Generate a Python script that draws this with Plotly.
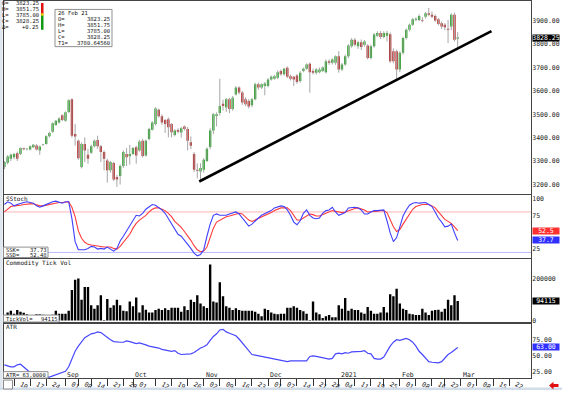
import plotly.graph_objects as go
import pandas as pd

W, H = 562, 393

# ---------------- data ----------------
FIRST_DAY = "2020-08-05"
LAST_AXIS_DAY = "2021-03-31"
HOLIDAYS = ["2020-09-07", "2020-11-26", "2020-12-25", "2021-01-01", "2021-01-18", "2021-02-15"]

OPEN = [3274, 3292, 3309, 3316, 3333, 3330, 3354, 3350, 3349, 3359,
        3366, 3345, 3368, 3373, 3406, 3425, 3454, 3465, 3496, 3472,
        3510, 3564, 3415, 3387, 3274, 3373, 3326, 3335, 3363, 3390,
        3363, 3338, 3302, 3260, 3291, 3231, 3236, 3278, 3330, 3320,
        3330, 3359, 3345, 3387, 3323, 3394, 3434, 3458, 3519, 3491,
        3475, 3479, 3458, 3411, 3432, 3422, 3447, 3437, 3380, 3330,
        3262, 3255, 3262, 3300, 3360, 3430, 3493, 3505, 3545, 3529,
        3564, 3522, 3585, 3614, 3593, 3564, 3557, 3539, 3564, 3628,
        3614, 3621, 3621, 3649, 3652, 3656, 3685, 3671, 3699, 3663,
        3661, 3666, 3642, 3685, 3695, 3716, 3685, 3678, 3680, 3685,
        3680, 3727, 3720, 3720, 3748, 3692, 3713, 3748, 3791, 3819,
        3791, 3808, 3798, 3794, 3741, 3791, 3836, 3848, 3831, 3836,
        3843, 3770, 3770, 3692, 3763, 3826, 3862, 3883, 3905, 3904,
        3904, 3918, 3933, 3926, 3921, 3907, 3890, 3883, 3866, 3876,
        3926, 3823.25]
HIGH = [3300, 3325, 3332, 3335, 3340, 3358, 3357, 3355, 3366, 3373,
        3372, 3366, 3373, 3410, 3425, 3465, 3476, 3487, 3500, 3512,
        3564, 3568, 3458, 3392, 3380, 3401, 3352, 3370, 3392, 3408,
        3369, 3345, 3310, 3300, 3296, 3240, 3285, 3345, 3355, 3369,
        3360, 3366, 3390, 3395, 3392, 3442, 3470, 3530, 3525, 3500,
        3480, 3486, 3462, 3436, 3440, 3446, 3452, 3445, 3405, 3338,
        3290, 3290, 3312, 3358, 3440, 3505, 3508, 3652, 3562, 3570,
        3570, 3578, 3620, 3620, 3600, 3572, 3565, 3570, 3635, 3635,
        3632, 3638, 3655, 3666, 3668, 3688, 3692, 3700, 3705, 3670,
        3665, 3672, 3685, 3700, 3718, 3722, 3695, 3698, 3700, 3705,
        3735, 3735, 3740, 3752, 3770, 3720, 3755, 3800, 3826, 3826,
        3815, 3820, 3818, 3800, 3798, 3848, 3855, 3856, 3855, 3857,
        3850, 3782, 3776, 3770, 3832, 3868, 3888, 3912, 3915, 3928,
        3915, 3938, 3955, 3940, 3928, 3912, 3897, 3890, 3904, 3932,
        3935, 3851.75]
LOW = [3265, 3285, 3300, 3308, 3300, 3325, 3346, 3345, 3345, 3355,
       3345, 3326, 3364, 3370, 3400, 3420, 3450, 3460, 3470, 3468,
       3505, 3400, 3366, 3305, 3268, 3295, 3288, 3330, 3358, 3352,
       3295, 3260, 3207, 3250, 3214, 3189, 3199, 3270, 3278, 3284,
       3325, 3288, 3340, 3315, 3318, 3388, 3430, 3452, 3485, 3455,
       3420, 3401, 3401, 3405, 3418, 3400, 3430, 3345, 3350, 3252,
       3225, 3215, 3250, 3295, 3350, 3415, 3448, 3495, 3515, 3510,
       3505, 3515, 3580, 3585, 3540, 3535, 3525, 3530, 3560, 3605,
       3608, 3581, 3615, 3644, 3648, 3650, 3665, 3665, 3655, 3645,
       3621, 3630, 3635, 3680, 3690, 3592, 3670, 3670, 3675, 3680,
       3675, 3712, 3713, 3712, 3678, 3685, 3708, 3740, 3785, 3790,
       3780, 3775, 3790, 3735, 3735, 3785, 3830, 3822, 3825, 3812,
       3720, 3718, 3650, 3680, 3755, 3820, 3855, 3878, 3898, 3898,
       3893, 3910, 3920, 3912, 3895, 3880, 3865, 3860, 3805, 3860,
       3812, 3785]
CLOSE = [3295, 3319, 3326, 3330, 3309, 3355, 3350, 3351, 3363, 3369,
         3349, 3362, 3369, 3406, 3420, 3461, 3472, 3482, 3475, 3508,
         3560, 3408, 3405, 3312, 3373, 3345, 3309, 3363, 3387, 3363,
         3338, 3309, 3260, 3295, 3221, 3221, 3278, 3338, 3316, 3330,
         3355, 3323, 3383, 3321, 3387, 3437, 3465, 3525, 3491, 3465,
         3458, 3444, 3423, 3430, 3425, 3440, 3437, 3387, 3365, 3262,
         3258, 3270, 3305, 3352, 3430, 3500, 3500, 3535, 3535, 3564,
         3522, 3571, 3614, 3593, 3550, 3543, 3533, 3564, 3628, 3614,
         3628, 3632, 3649, 3661, 3663, 3680, 3671, 3695, 3661, 3652,
         3649, 3638, 3678, 3695, 3713, 3680, 3678, 3692, 3692, 3700,
         3727, 3720, 3734, 3748, 3692, 3713, 3748, 3794, 3819, 3798,
         3808, 3788, 3812, 3741, 3791, 3841, 3848, 3831, 3848, 3848,
         3727, 3727, 3692, 3763, 3826, 3862, 3883, 3907, 3909, 3921,
         3900, 3933, 3926, 3918, 3901, 3887, 3876, 3873, 3862, 3926,
         3819, 3828.25]

SSK = [91, 95, 93, 89, 91, 93, 94, 95, 94, 93,
       89, 87, 89, 91, 94, 95, 96, 94, 93, 95,
       95, 70, 36, 24, 24, 24, 26, 29, 28, 25,
       26, 25, 28, 25, 22, 26, 37, 44, 52, 59,
       66, 75, 74, 78, 84, 88, 91, 90, 87, 83,
       78, 70, 63, 54, 47, 44, 38, 33, 26, 19,
       15, 17, 24, 44, 62, 75, 77, 75, 75, 75,
       77, 79, 80, 77, 71, 65, 59, 62, 67, 71,
       75, 77, 79, 82, 86, 88, 89, 88, 83, 75,
       65, 61, 67, 78, 83, 75, 71, 70, 71, 78,
       82, 83, 87, 80, 75, 77, 79, 86, 87, 87,
       86, 83, 77, 77, 80, 82, 82, 83, 83, 67,
       49, 36, 42, 58, 74, 83, 90, 93, 94, 93,
       93, 94, 91, 88, 80, 71, 65, 58, 59, 62,
       49, 37.73]
SSD = [80, 84, 88, 89, 89, 90, 91, 92, 92, 92,
       90, 89, 89, 90, 91, 93, 94, 94, 94, 94,
       95, 87, 73, 52, 41, 35, 32, 31, 30, 30,
       29, 28, 28, 28, 26, 25, 29, 35, 41, 47,
       56, 63, 68, 71, 75, 80, 84, 86, 86, 84,
       82, 78, 73, 66, 62, 57, 51, 45, 38, 30,
       24, 21, 22, 28, 41, 56, 65, 68, 70, 73,
       74, 75, 77, 78, 77, 73, 68, 66, 68, 70,
       73, 75, 77, 79, 82, 84, 86, 86, 86, 82,
       75, 68, 68, 71, 75, 77, 76, 74, 74, 76,
       78, 80, 82, 81, 80, 79, 80, 82, 84, 85,
       86, 85, 83, 80, 80, 81, 81, 82, 82, 79,
       68, 58, 51, 54, 62, 70, 78, 84, 88, 90,
       91, 91, 91, 89, 86, 80, 74, 69, 66, 63,
       58, 52.48]
STOCH_LEVELS = [80, 20]

TICK_VOL_K = [26, 38, 47, 33, 51, 42, 37, 30, 19, 24,
              30, 30, 28, 26, 26, 28, 47, 33, 33, 33,
              47, 147, 196, 201, 100, 161, 161, 73, 56, 73,
              121, 3, 103, 61, 73, 100, 73, 47, 44, 91,
              68, 110, 38, 73, 52, 38, 38, 51, 56, 51,
              59, 51, 61, 61, 61, 42, 68, 51, 100, 89,
              121, 82, 68, 60, 269, 91, 86, 183, 117, 68,
              61, 51, 59, 51, 47, 47, 47, 47, 42, 33,
              21, 56, 51, 38, 33, 30, 33, 33, 61, 61,
              68, 61, 51, 44, 33, 3, 91, 38, 30, 12,
              21, 26, 16, 16, 73, 56, 108, 47, 56, 51,
              51, 38, 33, 65, 47, 33, 33, 38, 65, 38,
              126, 117, 152, 82, 56, 51, 33, 30, 26, 26,
              56, 38, 26, 47, 51, 52, 42, 56, 100, 73,
              121, 94.115]

ATR = [36, 34, 33, 33, 36, 37, 33, 29, 24, 20,
       19, 18, 17, 17, 17, 19, 20, 22, 24, 26,
       33, 46, 57, 65, 72, 78, 81, 84, 85, 87,
       86, 82, 78, 75, 72, 71, 71, 71, 73, 72,
       71, 69, 70, 69, 67, 65, 64, 64, 62, 60,
       59, 59, 57, 58, 54, 52, 52, 52, 53, 55,
       59, 62, 64, 67, 74, 80, 84, 90, 91, 87,
       85, 83, 81, 76, 70, 64, 57, 52, 51, 50,
       49, 48, 46, 45, 44, 43, 42, 42, 41, 42,
       42, 42, 42, 42, 42, 49, 50, 49, 48, 48,
       46, 45, 46, 53, 54, 53, 55, 54, 56, 56,
       57, 57, 58, 54, 53, 46, 45, 45, 48, 57,
       65, 71, 75, 74, 76, 77, 75, 71, 65, 57,
       52, 46, 41, 40, 39, 39, 41, 46, 52, 55,
       59, 63.0]

TREND_X = [60.6, 151.5]      # bar index of trend line ends
TREND_Y = [3212, 3856]

TICK_DATES = ["2020-08-10", "2020-08-17", "2020-08-24", "2020-09-01", "2020-09-08",
              "2020-09-14", "2020-09-21", "2020-09-28", "2020-10-01", "2020-10-12",
              "2020-10-19", "2020-10-26", "2020-11-02", "2020-11-09", "2020-11-16",
              "2020-11-23", "2020-12-01", "2020-12-07", "2020-12-14", "2020-12-21",
              "2020-12-28", "2021-01-04", "2021-01-11", "2021-01-19", "2021-01-25",
              "2021-02-01", "2021-02-08", "2021-02-16", "2021-02-22", "2021-03-01",
              "2021-03-08", "2021-03-15", "2021-03-22"]
MONTH_DATES = ["2020-09-01", "2020-10-01", "2020-11-02", "2020-12-01",
               "2021-01-04", "2021-02-01", "2021-03-01"]
MONTH_TEXT = ["Sep", "Oct", "Nov", "Dec", "2021", "Feb", "Mar"]

PRICE_TICKS = [3200, 3300, 3400, 3500, 3600, 3700, 3800, 3900]
STOCH_TICKS = [25, 75, 100]
VOL_TICKS = [0, 200000]
ATR_TICKS = [25, 50, 75]

INFO_LABELS = ["O=", "H=", "L=", "C=", "Δ="]
INFO_VALUES = ["3823.25", "3851.75", "3785.00", "3828.25", "+0.25"]
BOX_TITLE = "26 Feb 21"
BOX_LABELS = ["O=", "H=", "L=", "C=", "T1="]
BOX_VALUES = ["3823.25", "3851.75", "3785.00", "3828.25", "3780.64560"]

# ---------------- helpers ----------------
MONO = "DejaVu Sans Mono"
days = pd.bdate_range(FIRST_DAY, LAST_AXIS_DAY)
days = days[~days.isin(pd.to_datetime(HOLIDAYS))]
pos = {d.strftime("%Y-%m-%d"): k for k, d in enumerate(days)}
n = len(CLOSE)
idx = list(range(n))


def px(v):
    return v / W


def py(v):
    return 1 - v / H


GREEN = "#17a317"
RED = "#b81616"

fig = go.Figure()

# wicks
wx, wy = [], []
for i in idx:
    wx += [i, i, None]
    wy += [LOW[i], HIGH[i], None]
fig.add_trace(go.Scatter(x=wx, y=wy, mode="lines", line=dict(color="#a6a6a6", width=1),
                         xaxis="x2", yaxis="y2", hoverinfo="skip", showlegend=False))
# bodies
base = [min(o, c) for o, c in zip(OPEN, CLOSE)]
height = [max(abs(c - o), 2.5) for o, c in zip(OPEN, CLOSE)]
cols = [GREEN if c >= o else RED for o, c in zip(OPEN, CLOSE)]
fig.add_trace(go.Bar(x=idx, y=height, base=base, width=0.72, marker=dict(color=cols, line=dict(width=0)),
                     xaxis="x2", yaxis="y2", showlegend=False))
# trend line
fig.add_trace(go.Scatter(x=TREND_X, y=TREND_Y, mode="lines", line=dict(color="black", width=2.6),
                         xaxis="x2", yaxis="y2", showlegend=False))

# stochastic
fig.add_trace(go.Scatter(x=idx, y=SSD, mode="lines", line=dict(color="#ff3a3a", width=1.1),
                         xaxis="x3", yaxis="y3", showlegend=False))
fig.add_trace(go.Scatter(x=idx, y=SSK, mode="lines", line=dict(color="#3f3fff", width=1.1),
                         xaxis="x3", yaxis="y3", showlegend=False))

# volume
fig.add_trace(go.Bar(x=idx, y=[v * 1000 for v in TICK_VOL_K], width=0.74,
                     marker=dict(color="black", line=dict(width=0)),
                     xaxis="x4", yaxis="y4", showlegend=False))

# ATR
fig.add_trace(go.Scatter(x=idx, y=ATR, mode="lines", line=dict(color="#4747ff", width=1.2),
                         xaxis="x", yaxis="y", showlegend=False))

XDOM = [px(3.5), px(531)]
XRANGE = [-0.28, 163.8]
axcommon = dict(showgrid=False, zeroline=False, showline=True, mirror=True,
                linecolor="#444", linewidth=1)
tickfont = dict(family=MONO, size=6.5, color="#222")
ytick = dict(ticks="", tickfont=tickfont, ticklabelstandoff=-1, side="right")

tickvals = [pos[d] for d in TICK_DATES]
ticktext = [d[-2:] for d in TICK_DATES]

fig.update_layout(
    width=W, height=H, margin=dict(l=0, r=0, t=0, b=0), autosize=False,
    paper_bgcolor="white", plot_bgcolor="white", barmode="overlay", showlegend=False,
    xaxis=dict(domain=XDOM, anchor="y", range=XRANGE, tickvals=tickvals, ticktext=ticktext,
               ticks="outside", ticklen=7, tickcolor="#333", tickwidth=1,
               ticklabelposition="outside", ticklabelshift=7, ticklabelstandoff=-8,
               tickfont=tickfont, **axcommon),
    xaxis2=dict(domain=XDOM, anchor="y2", matches="x", showticklabels=False, ticks="", **axcommon),
    xaxis3=dict(domain=XDOM, anchor="y3", matches="x", showticklabels=False, ticks="", **axcommon),
    xaxis4=dict(domain=XDOM, anchor="y4", matches="x", showticklabels=False, ticks="", **axcommon),
    yaxis=dict(domain=[py(381), py(326)], anchor="x", range=[15.5, 100],
               tickvals=ATR_TICKS, ticktext=[f"{v:.2f}" for v in ATR_TICKS], **ytick, **axcommon),
    yaxis2=dict(domain=[py(195), py(1.5)], anchor="x2", range=[3160.5, 3982.9],
                tickvals=PRICE_TICKS, ticktext=[f"{v:.2f}" for v in PRICE_TICKS], **ytick, **axcommon),
    yaxis3=dict(domain=[py(259.5), py(196.5)], anchor="x3", range=[12.5, 105.1],
                tickvals=STOCH_TICKS, ticktext=[str(v) for v in STOCH_TICKS], **ytick, **axcommon),
    yaxis4=dict(domain=[py(324.5), py(261)], anchor="x4", range=[-7100, 295000],
                tickvals=VOL_TICKS, ticktext=[str(v) for v in VOL_TICKS], **ytick, **axcommon),
)

shapes = []
for lvl, c in zip(STOCH_LEVELS, ["#ffb3b3", "#b9b9ff"]):
    shapes.append(dict(type="line", xref="x3 domain", x0=0, x1=1, yref="y3", y0=lvl, y1=lvl,
                       line=dict(color=c, width=1), layer="below"))


def rect(x0, y0, x1, y1, fill, line=None, lw=1):
    shapes.append(dict(type="rect", xref="paper", yref="paper", x0=px(x0), x1=px(x1),
                       y0=py(y1), y1=py(y0), fillcolor=fill,
                       line=dict(color=line or fill, width=lw if line else 0)))


# frame decorations
rect(0, 0, 2.6, 393, "#dfe6ee")
rect(0, 390.6, 562, 393, "#d3dde9")
rect(3.5, 383, 12.5, 392, "white", "#8a8a8a")
# top-left colour bar
rect(41, 3, 43.5, 14, "#e01010")
rect(41, 15, 43.5, 30, "#119911")
shapes.append(dict(type="circle", xref="paper", yref="paper", x0=px(40.8), x1=px(43.7),
                   y0=py(16), y1=py(13), fillcolor="#e8c000", line=dict(width=0)))
# data window box
rect(55, 9.5, 112, 47, "white", "#8f8f8f")
# bottom-left value boxes
rect(3.5, 249, 48, 259.5, "white", "#8f8f8f")
rect(3.5, 317.5, 59, 324.5, "white", "#8f8f8f")
rect(3.5, 374.5, 48, 381, "white", "#8f8f8f")

# red arrow (bottom right)
pts = [(549, 388.5), (553.5, 384.6), (553.5, 386.9), (558.5, 386.9), (558.5, 390.1),
       (553.5, 390.1), (553.5, 392.4)]
path = "M " + " L ".join(f"{px(a):.5f},{py(b):.5f}" for a, b in pts) + " Z"
shapes.append(dict(type="path", xref="paper", yref="paper", path=path,
                   fillcolor="#e01010", line=dict(width=0)))

ann = []


def txt(x, y, s, anchor="left", size=5.5, color="#111"):
    ann.append(dict(xref="paper", yref="paper", x=px(x), y=py(y), text=s, showarrow=False,
                    xanchor=anchor, yanchor="middle", borderpad=0,
                    font=dict(family=MONO, size=size, color=color)))


# top-left info
for k, (lab, val) in enumerate(zip(INFO_LABELS, INFO_VALUES)):
    yy = 3.5 + 5.9 * k
    txt(0.5, yy, lab)
    txt(39.5, yy, val, anchor="right")
# data window
txt(56.5, 13.3, BOX_TITLE)
for k, (lab, val) in enumerate(zip(BOX_LABELS, BOX_VALUES)):
    yy = 19.3 + 5.9 * k
    txt(56.5, yy, lab)
    txt(111, yy, val, anchor="right")

# panel titles
txt(5, 200.5, "SStoch", size=6)
txt(5, 265, "Commodity Tick Vol", size=6)
txt(5, 329.5, "ATR", size=6)

# bottom-left value boxes
txt(4.5, 251.8, "SSK=")
txt(47.5, 251.8, f"{SSK[-1]:.2f}", anchor="right")
txt(4.5, 257, "SSD=")
txt(47.5, 257, f"{SSD[-1]:.2f}", anchor="right")
txt(4.5, 321, "TickVol=")
txt(58.5, 321, f"{TICK_VOL_K[-1] * 1000:.0f}", anchor="right")
txt(4.5, 377.8, f"ATR= {ATR[-1]:.4f}")

# month labels
for d, s in zip(MONTH_DATES, MONTH_TEXT):
    ann.append(dict(xref="x", yref="paper", x=pos[d], y=py(378.3), text=s, showarrow=False,
                    xanchor="left", yanchor="middle", xshift=1, borderpad=0,
                    font=dict(family=MONO, size=6.5, color="#222")))


def tag(yref, yv, s, bg):
    ann.append(dict(xref="paper", yref=yref, x=px(531.5), y=yv, text=s, showarrow=False,
                    xanchor="left", yanchor="middle", bgcolor=bg, width=26, height=6,
                    borderpad=0, align="center",
                    font=dict(family=MONO, size=6.5, color="white")))


tag("y2", CLOSE[-1], f"{CLOSE[-1]:.2f}", "black")
tag("y3", SSD[-1], f"{SSD[-1]:.1f}", "#ff3030")
tag("y3", SSK[-1], f"{SSK[-1]:.1f}", "#3030ff")
tag("y4", TICK_VOL_K[-1] * 1000, f"{TICK_VOL_K[-1] * 1000:.0f}", "black")
tag("y", ATR[-1], f"{ATR[-1]:.2f}", "#3030ff")

fig.update_layout(shapes=shapes, annotations=ann)
fig.write_html("out.html", config={"displayModeBar": False, "staticPlot": True},
               post_script="document.body.style.margin='0';document.body.style.overflow='hidden';")
